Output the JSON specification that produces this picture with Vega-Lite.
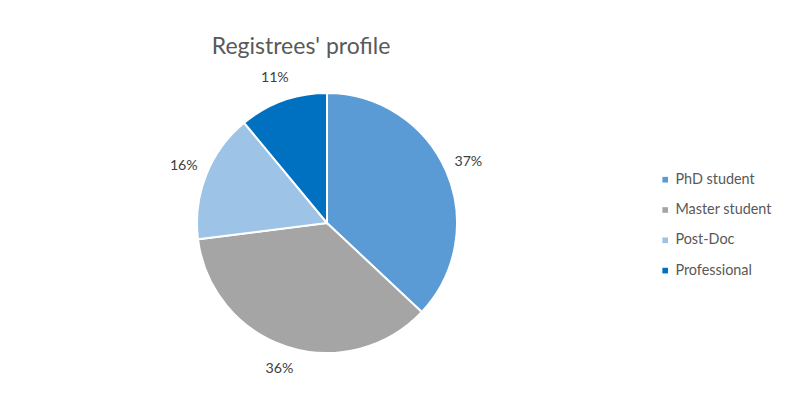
{
  "$schema": "https://vega.github.io/schema/vega-lite/v6.json",
  "autosize": {"type": "none"},
  "width": 646,
  "height": 354,
  "padding": {"left": 4, "top": 46, "right": 144, "bottom": 0},
  "background": "white",
  "config": {"view": {"stroke": null}, "font": "Lato"},
  "title": {
    "text": "Registrees' profile",
    "anchor": "middle",
    "frame": "group",
    "dx": -26,
    "offset": -31,
    "baseline": "alphabetic",
    "fontSize": 23,
    "fontWeight": "normal",
    "color": "#595959"
  },
  "data": {
    "values": [
      {"profile": "PhD student", "pct": 37, "idx": 1, "label": "37%"},
      {"profile": "Master student", "pct": 36, "idx": 2, "label": "36%"},
      {"profile": "Post-Doc", "pct": 16, "idx": 3, "label": "16%"},
      {"profile": "Professional", "pct": 11, "idx": 4, "label": "11%"}
    ]
  },
  "encoding": {
    "theta": {"field": "pct", "type": "quantitative", "stack": true},
    "order": {"field": "idx", "type": "quantitative"},
    "color": {
      "field": "profile",
      "type": "nominal",
      "scale": {
        "domain": ["PhD student", "Master student", "Post-Doc", "Professional"],
        "range": ["#5B9BD5", "#A5A5A5", "#9DC3E6", "#0070C0"]
      },
      "legend": {
        "orient": "none",
        "legendX": 654,
        "legendY": 126.5,
        "title": null,
        "symbolType": "square",
        "symbolSize": 32,
        "symbolStrokeWidth": 0,
        "labelFontSize": 14.4,
        "labelColor": "#595959",
        "labelOffset": 3,
        "rowPadding": 15.3,
        "padding": 0
      }
    }
  },
  "layer": [
    {
      "mark": {"type": "arc", "outerRadius": 130, "stroke": "white", "strokeWidth": 2}
    },
    {
      "mark": {"type": "text", "radius": 154, "fontSize": 14.2, "align": "center", "baseline": "middle"},
      "encoding": {
        "text": {"field": "label", "type": "nominal"},
        "color": {"value": "#404040"}
      }
    }
  ]
}
